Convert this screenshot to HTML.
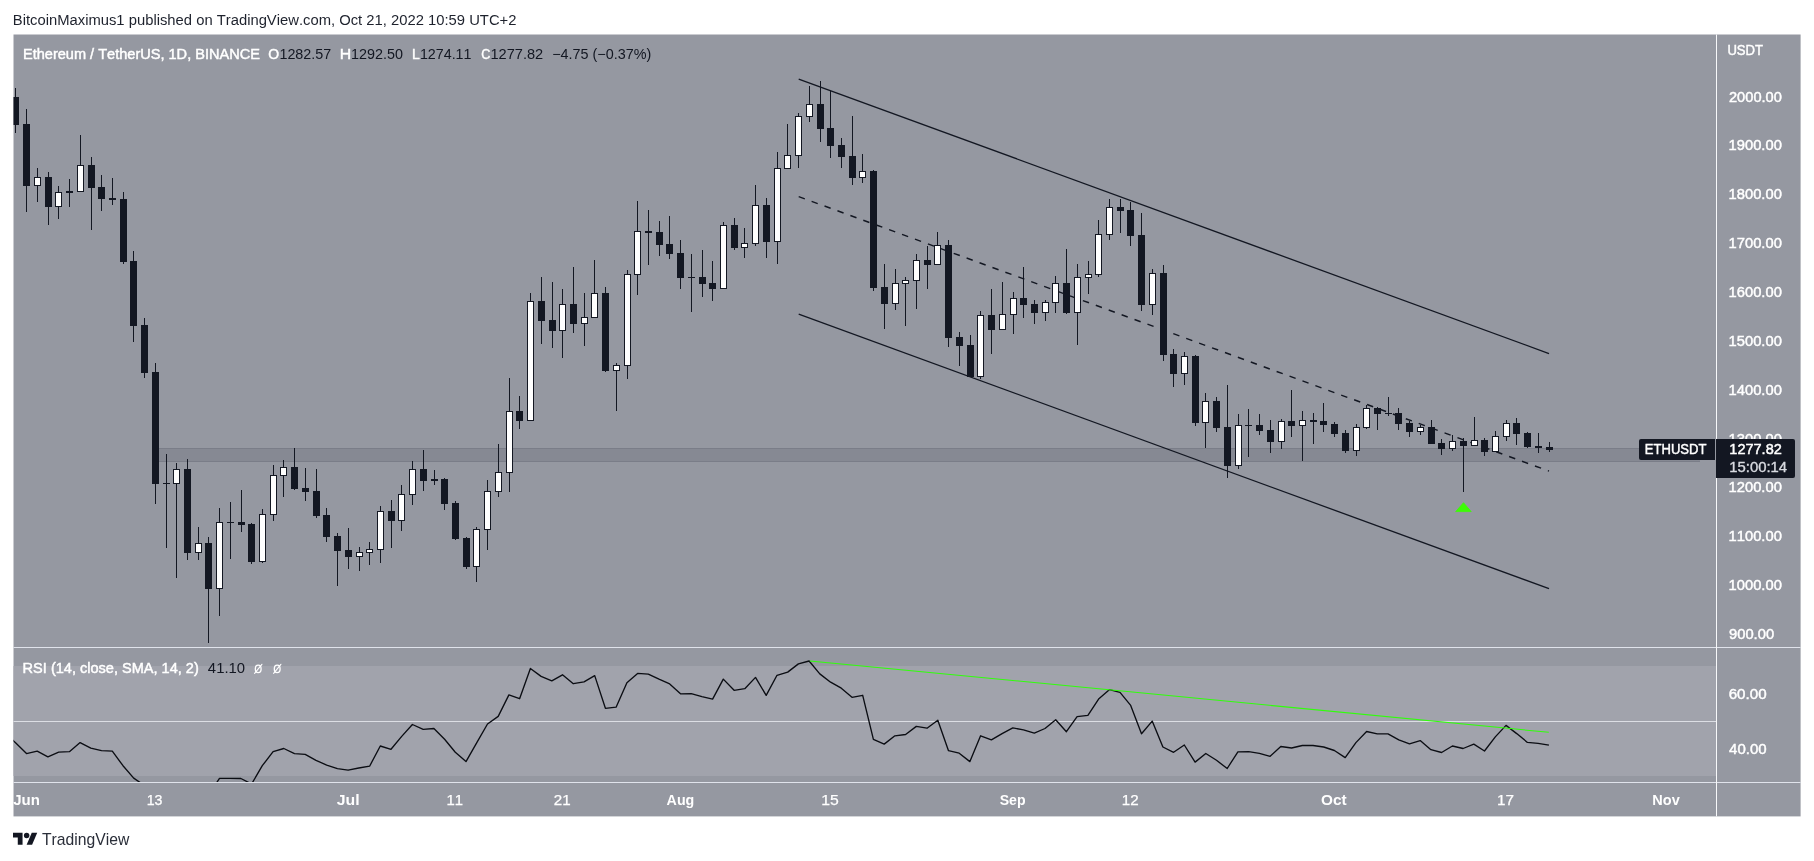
<!DOCTYPE html>
<html><head><meta charset="utf-8"><title>ETHUSDT chart</title>
<style>html,body{margin:0;padding:0;background:#fff;}body{width:1814px;height:861px;overflow:hidden;}svg{display:block;will-change:transform;}text{font-family:"Liberation Sans",sans-serif;font-kerning:none;}</style>
</head><body>
<svg width="1814" height="861" viewBox="0 0 1814 861">
<rect x="0" y="0" width="1814" height="861" fill="#ffffff"/>
<rect x="13.5" y="34.5" width="1787.1" height="781.9" fill="#9598a1"/>
<rect x="13.5" y="666" width="1702.5" height="110" fill="#a1a3ac"/>
<rect x="13.5" y="721" width="1702.5" height="1" fill="#dcdee4"/>
<defs><clipPath id="mainclip"><rect x="13.5" y="34.5" width="1702.5" height="612.5"/></clipPath><clipPath id="rsiclip"><rect x="13.5" y="648" width="1702.5" height="134"/></clipPath></defs>
<g clip-path="url(#mainclip)">
<rect x="156" y="448" width="1544" height="14" fill="#868993"/>
<rect x="156" y="448" width="1544" height="1" fill="#7a7d88"/>
<rect x="156" y="461" width="1544" height="1" fill="#7a7d88"/>
<g stroke="#131722" stroke-width="1.3" fill="none">
<line x1="798.7" y1="79.1" x2="1549.0" y2="353.55"/>
<line x1="798.7" y1="314.1" x2="1549.0" y2="588.7"/>
<line x1="798.7" y1="196.6" x2="1549.0" y2="471.1" stroke-width="1.45" stroke-dasharray="6.5 7.254"/>
</g>
<g shape-rendering="crispEdges">
<rect x="15" y="88" width="1" height="45" fill="#131722"/>
<rect x="12" y="97" width="7" height="28" fill="#131722"/>
<rect x="26" y="109" width="1" height="103" fill="#131722"/>
<rect x="23" y="124" width="7" height="62" fill="#131722"/>
<rect x="37" y="168" width="1" height="34" fill="#131722"/>
<rect x="34" y="177" width="7" height="9" fill="#131722"/>
<rect x="35" y="178" width="5" height="7" fill="#ffffff"/>
<rect x="48" y="172" width="1" height="53" fill="#131722"/>
<rect x="45" y="177" width="7" height="30" fill="#131722"/>
<rect x="58" y="186" width="1" height="33" fill="#131722"/>
<rect x="55" y="192" width="7" height="15" fill="#131722"/>
<rect x="56" y="193" width="5" height="13" fill="#ffffff"/>
<rect x="69" y="179" width="1" height="28" fill="#131722"/>
<rect x="66" y="191" width="7" height="2" fill="#131722"/>
<rect x="80" y="135" width="1" height="57" fill="#131722"/>
<rect x="77" y="165" width="7" height="27" fill="#131722"/>
<rect x="78" y="166" width="5" height="25" fill="#ffffff"/>
<rect x="91" y="157" width="1" height="73" fill="#131722"/>
<rect x="88" y="165" width="7" height="23" fill="#131722"/>
<rect x="101" y="175" width="1" height="36" fill="#131722"/>
<rect x="98" y="187" width="7" height="12" fill="#131722"/>
<rect x="112" y="178" width="1" height="27" fill="#131722"/>
<rect x="109" y="198" width="7" height="2" fill="#131722"/>
<rect x="123" y="192" width="1" height="72" fill="#131722"/>
<rect x="120" y="199" width="7" height="63" fill="#131722"/>
<rect x="133" y="251" width="1" height="91" fill="#131722"/>
<rect x="130" y="261" width="7" height="65" fill="#131722"/>
<rect x="144" y="318" width="1" height="60" fill="#131722"/>
<rect x="141" y="325" width="7" height="48" fill="#131722"/>
<rect x="155" y="363" width="1" height="141" fill="#131722"/>
<rect x="152" y="372" width="7" height="112" fill="#131722"/>
<rect x="166" y="454" width="1" height="94" fill="#131722"/>
<rect x="163" y="483" width="7" height="1" fill="#131722"/>
<rect x="176" y="463" width="1" height="115" fill="#131722"/>
<rect x="173" y="469" width="7" height="15" fill="#131722"/>
<rect x="174" y="470" width="5" height="13" fill="#ffffff"/>
<rect x="187" y="459" width="1" height="101" fill="#131722"/>
<rect x="184" y="469" width="7" height="84" fill="#131722"/>
<rect x="198" y="527" width="1" height="33" fill="#131722"/>
<rect x="195" y="543" width="7" height="10" fill="#131722"/>
<rect x="196" y="544" width="5" height="8" fill="#ffffff"/>
<rect x="208" y="537" width="1" height="106" fill="#131722"/>
<rect x="205" y="543" width="7" height="46" fill="#131722"/>
<rect x="219" y="508" width="1" height="108" fill="#131722"/>
<rect x="216" y="522" width="7" height="67" fill="#131722"/>
<rect x="217" y="523" width="5" height="65" fill="#ffffff"/>
<rect x="230" y="502" width="1" height="57" fill="#131722"/>
<rect x="227" y="522" width="7" height="1" fill="#131722"/>
<rect x="241" y="490" width="1" height="42" fill="#131722"/>
<rect x="238" y="522" width="7" height="3" fill="#131722"/>
<rect x="251" y="523" width="1" height="41" fill="#131722"/>
<rect x="248" y="524" width="7" height="38" fill="#131722"/>
<rect x="262" y="509" width="1" height="54" fill="#131722"/>
<rect x="259" y="514" width="7" height="48" fill="#131722"/>
<rect x="260" y="515" width="5" height="46" fill="#ffffff"/>
<rect x="273" y="465" width="1" height="56" fill="#131722"/>
<rect x="270" y="475" width="7" height="40" fill="#131722"/>
<rect x="271" y="476" width="5" height="38" fill="#ffffff"/>
<rect x="283" y="460" width="1" height="37" fill="#131722"/>
<rect x="280" y="467" width="7" height="9" fill="#131722"/>
<rect x="281" y="468" width="5" height="7" fill="#ffffff"/>
<rect x="294" y="448" width="1" height="42" fill="#131722"/>
<rect x="291" y="467" width="7" height="22" fill="#131722"/>
<rect x="305" y="468" width="1" height="33" fill="#131722"/>
<rect x="302" y="488" width="7" height="4" fill="#131722"/>
<rect x="316" y="469" width="1" height="49" fill="#131722"/>
<rect x="313" y="491" width="7" height="25" fill="#131722"/>
<rect x="326" y="508" width="1" height="34" fill="#131722"/>
<rect x="323" y="515" width="7" height="22" fill="#131722"/>
<rect x="337" y="533" width="1" height="53" fill="#131722"/>
<rect x="334" y="536" width="7" height="15" fill="#131722"/>
<rect x="348" y="528" width="1" height="41" fill="#131722"/>
<rect x="345" y="550" width="7" height="7" fill="#131722"/>
<rect x="359" y="547" width="1" height="24" fill="#131722"/>
<rect x="356" y="552" width="7" height="5" fill="#131722"/>
<rect x="357" y="553" width="5" height="3" fill="#ffffff"/>
<rect x="369" y="542" width="1" height="23" fill="#131722"/>
<rect x="366" y="549" width="7" height="4" fill="#131722"/>
<rect x="367" y="550" width="5" height="2" fill="#ffffff"/>
<rect x="380" y="506" width="1" height="57" fill="#131722"/>
<rect x="377" y="511" width="7" height="39" fill="#131722"/>
<rect x="378" y="512" width="5" height="37" fill="#ffffff"/>
<rect x="391" y="500" width="1" height="48" fill="#131722"/>
<rect x="388" y="511" width="7" height="10" fill="#131722"/>
<rect x="401" y="485" width="1" height="46" fill="#131722"/>
<rect x="398" y="494" width="7" height="27" fill="#131722"/>
<rect x="399" y="495" width="5" height="25" fill="#ffffff"/>
<rect x="412" y="461" width="1" height="44" fill="#131722"/>
<rect x="409" y="469" width="7" height="26" fill="#131722"/>
<rect x="410" y="470" width="5" height="24" fill="#ffffff"/>
<rect x="423" y="450" width="1" height="41" fill="#131722"/>
<rect x="420" y="469" width="7" height="12" fill="#131722"/>
<rect x="434" y="470" width="1" height="15" fill="#131722"/>
<rect x="431" y="479" width="7" height="2" fill="#131722"/>
<rect x="444" y="478" width="1" height="32" fill="#131722"/>
<rect x="441" y="479" width="7" height="25" fill="#131722"/>
<rect x="455" y="501" width="1" height="39" fill="#131722"/>
<rect x="452" y="503" width="7" height="36" fill="#131722"/>
<rect x="466" y="537" width="1" height="32" fill="#131722"/>
<rect x="463" y="538" width="7" height="29" fill="#131722"/>
<rect x="476" y="527" width="1" height="55" fill="#131722"/>
<rect x="473" y="529" width="7" height="38" fill="#131722"/>
<rect x="474" y="530" width="5" height="36" fill="#ffffff"/>
<rect x="487" y="480" width="1" height="70" fill="#131722"/>
<rect x="484" y="491" width="7" height="39" fill="#131722"/>
<rect x="485" y="492" width="5" height="37" fill="#ffffff"/>
<rect x="498" y="444" width="1" height="53" fill="#131722"/>
<rect x="495" y="472" width="7" height="20" fill="#131722"/>
<rect x="496" y="473" width="5" height="18" fill="#ffffff"/>
<rect x="509" y="378" width="1" height="114" fill="#131722"/>
<rect x="506" y="411" width="7" height="62" fill="#131722"/>
<rect x="507" y="412" width="5" height="60" fill="#ffffff"/>
<rect x="519" y="396" width="1" height="33" fill="#131722"/>
<rect x="516" y="411" width="7" height="10" fill="#131722"/>
<rect x="530" y="293" width="1" height="128" fill="#131722"/>
<rect x="527" y="301" width="7" height="120" fill="#131722"/>
<rect x="528" y="302" width="5" height="118" fill="#ffffff"/>
<rect x="541" y="277" width="1" height="67" fill="#131722"/>
<rect x="538" y="301" width="7" height="20" fill="#131722"/>
<rect x="552" y="282" width="1" height="66" fill="#131722"/>
<rect x="549" y="320" width="7" height="11" fill="#131722"/>
<rect x="562" y="289" width="1" height="69" fill="#131722"/>
<rect x="559" y="304" width="7" height="27" fill="#131722"/>
<rect x="560" y="305" width="5" height="25" fill="#ffffff"/>
<rect x="573" y="267" width="1" height="66" fill="#131722"/>
<rect x="570" y="304" width="7" height="20" fill="#131722"/>
<rect x="584" y="293" width="1" height="53" fill="#131722"/>
<rect x="581" y="317" width="7" height="7" fill="#131722"/>
<rect x="582" y="318" width="5" height="5" fill="#ffffff"/>
<rect x="594" y="260" width="1" height="58" fill="#131722"/>
<rect x="591" y="293" width="7" height="25" fill="#131722"/>
<rect x="592" y="294" width="5" height="23" fill="#ffffff"/>
<rect x="605" y="287" width="1" height="85" fill="#131722"/>
<rect x="602" y="293" width="7" height="78" fill="#131722"/>
<rect x="616" y="363" width="1" height="48" fill="#131722"/>
<rect x="613" y="365" width="7" height="6" fill="#131722"/>
<rect x="614" y="366" width="5" height="4" fill="#ffffff"/>
<rect x="627" y="270" width="1" height="109" fill="#131722"/>
<rect x="624" y="274" width="7" height="92" fill="#131722"/>
<rect x="625" y="275" width="5" height="90" fill="#ffffff"/>
<rect x="637" y="201" width="1" height="94" fill="#131722"/>
<rect x="634" y="231" width="7" height="44" fill="#131722"/>
<rect x="635" y="232" width="5" height="42" fill="#ffffff"/>
<rect x="648" y="210" width="1" height="55" fill="#131722"/>
<rect x="645" y="231" width="7" height="2" fill="#131722"/>
<rect x="659" y="221" width="1" height="35" fill="#131722"/>
<rect x="656" y="232" width="7" height="13" fill="#131722"/>
<rect x="669" y="216" width="1" height="43" fill="#131722"/>
<rect x="666" y="244" width="7" height="10" fill="#131722"/>
<rect x="680" y="240" width="1" height="49" fill="#131722"/>
<rect x="677" y="253" width="7" height="25" fill="#131722"/>
<rect x="691" y="254" width="1" height="58" fill="#131722"/>
<rect x="688" y="277" width="7" height="1" fill="#131722"/>
<rect x="702" y="250" width="1" height="47" fill="#131722"/>
<rect x="699" y="277" width="7" height="7" fill="#131722"/>
<rect x="712" y="261" width="1" height="40" fill="#131722"/>
<rect x="709" y="283" width="7" height="6" fill="#131722"/>
<rect x="723" y="222" width="1" height="67" fill="#131722"/>
<rect x="720" y="225" width="7" height="64" fill="#131722"/>
<rect x="721" y="226" width="5" height="62" fill="#ffffff"/>
<rect x="734" y="218" width="1" height="32" fill="#131722"/>
<rect x="731" y="225" width="7" height="23" fill="#131722"/>
<rect x="744" y="228" width="1" height="30" fill="#131722"/>
<rect x="741" y="243" width="7" height="5" fill="#131722"/>
<rect x="742" y="244" width="5" height="3" fill="#ffffff"/>
<rect x="755" y="185" width="1" height="61" fill="#131722"/>
<rect x="752" y="205" width="7" height="39" fill="#131722"/>
<rect x="753" y="206" width="5" height="37" fill="#ffffff"/>
<rect x="766" y="198" width="1" height="60" fill="#131722"/>
<rect x="763" y="205" width="7" height="37" fill="#131722"/>
<rect x="777" y="152" width="1" height="112" fill="#131722"/>
<rect x="774" y="168" width="7" height="74" fill="#131722"/>
<rect x="775" y="169" width="5" height="72" fill="#ffffff"/>
<rect x="787" y="124" width="1" height="45" fill="#131722"/>
<rect x="784" y="155" width="7" height="14" fill="#131722"/>
<rect x="785" y="156" width="5" height="12" fill="#ffffff"/>
<rect x="798" y="113" width="1" height="55" fill="#131722"/>
<rect x="795" y="116" width="7" height="40" fill="#131722"/>
<rect x="796" y="117" width="5" height="38" fill="#ffffff"/>
<rect x="809" y="86" width="1" height="36" fill="#131722"/>
<rect x="806" y="104" width="7" height="13" fill="#131722"/>
<rect x="807" y="105" width="5" height="11" fill="#ffffff"/>
<rect x="820" y="81" width="1" height="61" fill="#131722"/>
<rect x="817" y="104" width="7" height="25" fill="#131722"/>
<rect x="830" y="91" width="1" height="67" fill="#131722"/>
<rect x="827" y="128" width="7" height="18" fill="#131722"/>
<rect x="841" y="138" width="1" height="30" fill="#131722"/>
<rect x="838" y="145" width="7" height="12" fill="#131722"/>
<rect x="852" y="116" width="1" height="69" fill="#131722"/>
<rect x="849" y="156" width="7" height="22" fill="#131722"/>
<rect x="862" y="154" width="1" height="29" fill="#131722"/>
<rect x="859" y="171" width="7" height="7" fill="#131722"/>
<rect x="860" y="172" width="5" height="5" fill="#ffffff"/>
<rect x="873" y="170" width="1" height="121" fill="#131722"/>
<rect x="870" y="171" width="7" height="117" fill="#131722"/>
<rect x="884" y="264" width="1" height="65" fill="#131722"/>
<rect x="881" y="287" width="7" height="17" fill="#131722"/>
<rect x="895" y="269" width="1" height="41" fill="#131722"/>
<rect x="892" y="283" width="7" height="21" fill="#131722"/>
<rect x="893" y="284" width="5" height="19" fill="#ffffff"/>
<rect x="905" y="277" width="1" height="49" fill="#131722"/>
<rect x="902" y="280" width="7" height="4" fill="#131722"/>
<rect x="903" y="281" width="5" height="2" fill="#ffffff"/>
<rect x="916" y="254" width="1" height="55" fill="#131722"/>
<rect x="913" y="260" width="7" height="21" fill="#131722"/>
<rect x="914" y="261" width="5" height="19" fill="#ffffff"/>
<rect x="927" y="246" width="1" height="43" fill="#131722"/>
<rect x="924" y="260" width="7" height="5" fill="#131722"/>
<rect x="937" y="232" width="1" height="33" fill="#131722"/>
<rect x="934" y="245" width="7" height="20" fill="#131722"/>
<rect x="935" y="246" width="5" height="18" fill="#ffffff"/>
<rect x="948" y="240" width="1" height="107" fill="#131722"/>
<rect x="945" y="245" width="7" height="93" fill="#131722"/>
<rect x="959" y="332" width="1" height="34" fill="#131722"/>
<rect x="956" y="337" width="7" height="9" fill="#131722"/>
<rect x="970" y="335" width="1" height="42" fill="#131722"/>
<rect x="967" y="345" width="7" height="32" fill="#131722"/>
<rect x="980" y="311" width="1" height="68" fill="#131722"/>
<rect x="977" y="315" width="7" height="62" fill="#131722"/>
<rect x="978" y="316" width="5" height="60" fill="#ffffff"/>
<rect x="991" y="289" width="1" height="65" fill="#131722"/>
<rect x="988" y="315" width="7" height="15" fill="#131722"/>
<rect x="1002" y="282" width="1" height="48" fill="#131722"/>
<rect x="999" y="314" width="7" height="16" fill="#131722"/>
<rect x="1000" y="315" width="5" height="14" fill="#ffffff"/>
<rect x="1013" y="292" width="1" height="42" fill="#131722"/>
<rect x="1010" y="298" width="7" height="17" fill="#131722"/>
<rect x="1011" y="299" width="5" height="15" fill="#ffffff"/>
<rect x="1023" y="267" width="1" height="51" fill="#131722"/>
<rect x="1020" y="298" width="7" height="7" fill="#131722"/>
<rect x="1034" y="300" width="1" height="24" fill="#131722"/>
<rect x="1031" y="304" width="7" height="9" fill="#131722"/>
<rect x="1045" y="300" width="1" height="21" fill="#131722"/>
<rect x="1042" y="302" width="7" height="11" fill="#131722"/>
<rect x="1043" y="303" width="5" height="9" fill="#ffffff"/>
<rect x="1055" y="276" width="1" height="37" fill="#131722"/>
<rect x="1052" y="283" width="7" height="20" fill="#131722"/>
<rect x="1053" y="284" width="5" height="18" fill="#ffffff"/>
<rect x="1066" y="249" width="1" height="65" fill="#131722"/>
<rect x="1063" y="283" width="7" height="30" fill="#131722"/>
<rect x="1077" y="264" width="1" height="81" fill="#131722"/>
<rect x="1074" y="277" width="7" height="36" fill="#131722"/>
<rect x="1075" y="278" width="5" height="34" fill="#ffffff"/>
<rect x="1088" y="261" width="1" height="33" fill="#131722"/>
<rect x="1085" y="274" width="7" height="4" fill="#131722"/>
<rect x="1086" y="275" width="5" height="2" fill="#ffffff"/>
<rect x="1098" y="220" width="1" height="57" fill="#131722"/>
<rect x="1095" y="234" width="7" height="41" fill="#131722"/>
<rect x="1096" y="235" width="5" height="39" fill="#ffffff"/>
<rect x="1109" y="199" width="1" height="41" fill="#131722"/>
<rect x="1106" y="207" width="7" height="28" fill="#131722"/>
<rect x="1107" y="208" width="5" height="26" fill="#ffffff"/>
<rect x="1120" y="199" width="1" height="34" fill="#131722"/>
<rect x="1117" y="207" width="7" height="4" fill="#131722"/>
<rect x="1130" y="202" width="1" height="44" fill="#131722"/>
<rect x="1127" y="210" width="7" height="26" fill="#131722"/>
<rect x="1141" y="213" width="1" height="98" fill="#131722"/>
<rect x="1138" y="235" width="7" height="70" fill="#131722"/>
<rect x="1152" y="269" width="1" height="46" fill="#131722"/>
<rect x="1149" y="273" width="7" height="32" fill="#131722"/>
<rect x="1150" y="274" width="5" height="30" fill="#ffffff"/>
<rect x="1163" y="265" width="1" height="96" fill="#131722"/>
<rect x="1160" y="273" width="7" height="82" fill="#131722"/>
<rect x="1173" y="349" width="1" height="38" fill="#131722"/>
<rect x="1170" y="354" width="7" height="20" fill="#131722"/>
<rect x="1184" y="352" width="1" height="33" fill="#131722"/>
<rect x="1181" y="356" width="7" height="18" fill="#131722"/>
<rect x="1182" y="357" width="5" height="16" fill="#ffffff"/>
<rect x="1195" y="355" width="1" height="71" fill="#131722"/>
<rect x="1192" y="356" width="7" height="67" fill="#131722"/>
<rect x="1205" y="393" width="1" height="55" fill="#131722"/>
<rect x="1202" y="401" width="7" height="22" fill="#131722"/>
<rect x="1203" y="402" width="5" height="20" fill="#ffffff"/>
<rect x="1216" y="397" width="1" height="35" fill="#131722"/>
<rect x="1213" y="401" width="7" height="27" fill="#131722"/>
<rect x="1227" y="385" width="1" height="93" fill="#131722"/>
<rect x="1224" y="427" width="7" height="39" fill="#131722"/>
<rect x="1238" y="414" width="1" height="55" fill="#131722"/>
<rect x="1235" y="425" width="7" height="41" fill="#131722"/>
<rect x="1236" y="426" width="5" height="39" fill="#ffffff"/>
<rect x="1248" y="409" width="1" height="48" fill="#131722"/>
<rect x="1245" y="425" width="7" height="1" fill="#131722"/>
<rect x="1259" y="414" width="1" height="21" fill="#131722"/>
<rect x="1256" y="425" width="7" height="6" fill="#131722"/>
<rect x="1270" y="420" width="1" height="33" fill="#131722"/>
<rect x="1267" y="430" width="7" height="12" fill="#131722"/>
<rect x="1281" y="419" width="1" height="30" fill="#131722"/>
<rect x="1278" y="421" width="7" height="21" fill="#131722"/>
<rect x="1279" y="422" width="5" height="19" fill="#ffffff"/>
<rect x="1291" y="390" width="1" height="47" fill="#131722"/>
<rect x="1288" y="421" width="7" height="5" fill="#131722"/>
<rect x="1302" y="411" width="1" height="50" fill="#131722"/>
<rect x="1299" y="420" width="7" height="6" fill="#131722"/>
<rect x="1300" y="421" width="5" height="4" fill="#ffffff"/>
<rect x="1313" y="413" width="1" height="31" fill="#131722"/>
<rect x="1310" y="420" width="7" height="2" fill="#131722"/>
<rect x="1323" y="403" width="1" height="29" fill="#131722"/>
<rect x="1320" y="421" width="7" height="4" fill="#131722"/>
<rect x="1334" y="422" width="1" height="15" fill="#131722"/>
<rect x="1331" y="424" width="7" height="10" fill="#131722"/>
<rect x="1345" y="430" width="1" height="23" fill="#131722"/>
<rect x="1342" y="433" width="7" height="18" fill="#131722"/>
<rect x="1356" y="424" width="1" height="32" fill="#131722"/>
<rect x="1353" y="427" width="7" height="24" fill="#131722"/>
<rect x="1354" y="428" width="5" height="22" fill="#ffffff"/>
<rect x="1366" y="405" width="1" height="24" fill="#131722"/>
<rect x="1363" y="408" width="7" height="20" fill="#131722"/>
<rect x="1364" y="409" width="5" height="18" fill="#ffffff"/>
<rect x="1377" y="407" width="1" height="23" fill="#131722"/>
<rect x="1374" y="408" width="7" height="6" fill="#131722"/>
<rect x="1388" y="397" width="1" height="19" fill="#131722"/>
<rect x="1385" y="413" width="7" height="1" fill="#131722"/>
<rect x="1398" y="408" width="1" height="22" fill="#131722"/>
<rect x="1395" y="413" width="7" height="11" fill="#131722"/>
<rect x="1409" y="421" width="1" height="16" fill="#131722"/>
<rect x="1406" y="423" width="7" height="9" fill="#131722"/>
<rect x="1420" y="425" width="1" height="10" fill="#131722"/>
<rect x="1417" y="427" width="7" height="5" fill="#131722"/>
<rect x="1418" y="428" width="5" height="3" fill="#ffffff"/>
<rect x="1431" y="420" width="1" height="24" fill="#131722"/>
<rect x="1428" y="427" width="7" height="17" fill="#131722"/>
<rect x="1441" y="439" width="1" height="16" fill="#131722"/>
<rect x="1438" y="443" width="7" height="6" fill="#131722"/>
<rect x="1452" y="435" width="1" height="16" fill="#131722"/>
<rect x="1449" y="441" width="7" height="8" fill="#131722"/>
<rect x="1450" y="442" width="5" height="6" fill="#ffffff"/>
<rect x="1463" y="438" width="1" height="54" fill="#131722"/>
<rect x="1460" y="441" width="7" height="5" fill="#131722"/>
<rect x="1474" y="417" width="1" height="29" fill="#131722"/>
<rect x="1471" y="440" width="7" height="6" fill="#131722"/>
<rect x="1472" y="441" width="5" height="4" fill="#ffffff"/>
<rect x="1484" y="438" width="1" height="18" fill="#131722"/>
<rect x="1481" y="440" width="7" height="12" fill="#131722"/>
<rect x="1495" y="431" width="1" height="21" fill="#131722"/>
<rect x="1492" y="436" width="7" height="16" fill="#131722"/>
<rect x="1493" y="437" width="5" height="14" fill="#ffffff"/>
<rect x="1506" y="420" width="1" height="21" fill="#131722"/>
<rect x="1503" y="423" width="7" height="14" fill="#131722"/>
<rect x="1504" y="424" width="5" height="12" fill="#ffffff"/>
<rect x="1516" y="418" width="1" height="27" fill="#131722"/>
<rect x="1513" y="423" width="7" height="11" fill="#131722"/>
<rect x="1527" y="432" width="1" height="16" fill="#131722"/>
<rect x="1524" y="433" width="7" height="14" fill="#131722"/>
<rect x="1538" y="433" width="1" height="20" fill="#131722"/>
<rect x="1535" y="446" width="7" height="2" fill="#131722"/>
<rect x="1549" y="442" width="1" height="10" fill="#131722"/>
<rect x="1546" y="447" width="7" height="3" fill="#131722"/>
</g>
<path d="M1463.5 502.7 L1471.2 511.6 L1455.7 511.6 Z" fill="#3cfc05" stroke="#3cfc05" stroke-width="0.8" stroke-linejoin="round"/>
</g>
<g clip-path="url(#rsiclip)">
<polyline points="5.0,733.0 15.8,743.0 26.5,753.6 37.2,751.2 47.9,756.8 58.7,752.2 69.4,751.7 80.1,742.6 90.8,748.2 101.5,750.7 112.3,751.2 123.0,765.7 133.7,778.1 144.4,785.5 155.1,800.0 165.9,805.0 176.6,805.0 187.3,808.0 198.0,806.0 208.7,795.0 219.5,778.3 230.2,778.3 240.9,778.5 251.6,784.0 262.3,765.7 273.1,751.7 283.8,748.5 294.5,753.6 305.2,754.3 316.0,760.3 326.7,765.1 337.4,768.7 348.1,770.2 358.8,768.0 369.6,766.2 380.3,746.0 391.0,749.3 401.7,736.4 412.4,724.5 423.2,729.3 433.9,728.5 444.6,739.3 455.3,752.2 466.0,761.6 476.8,742.6 487.5,724.0 498.2,716.4 508.9,694.9 519.6,698.7 530.4,668.5 541.1,676.4 551.8,680.9 562.5,674.8 573.3,683.7 584.0,681.9 594.7,675.6 605.4,708.3 616.1,707.2 626.9,682.7 637.6,673.4 648.3,674.1 659.0,679.2 669.7,683.9 680.5,693.8 691.2,693.6 701.9,696.6 712.6,699.1 723.3,679.1 734.1,690.3 744.8,688.7 755.5,677.4 766.2,695.4 777.0,675.3 787.7,672.1 798.4,663.9 809.1,661.0 819.8,673.9 830.6,682.2 841.3,688.2 852.0,697.3 862.7,695.3 873.4,739.3 884.2,744.1 894.9,735.8 905.6,734.5 916.3,726.4 927.0,728.2 937.8,720.2 948.5,750.7 959.2,753.2 969.9,761.6 980.6,735.8 991.4,739.9 1002.1,733.6 1012.8,727.9 1023.5,729.8 1034.3,733.1 1045.0,728.5 1055.7,719.7 1066.4,731.7 1077.1,716.6 1087.9,715.4 1098.6,699.1 1109.3,689.7 1120.0,692.4 1130.7,705.4 1141.5,733.8 1152.2,721.1 1162.9,747.0 1173.6,752.3 1184.3,745.0 1195.1,762.1 1205.8,753.5 1216.5,760.3 1227.2,768.5 1237.9,751.8 1248.7,751.7 1259.4,753.3 1270.1,756.3 1280.8,746.5 1291.6,748.0 1302.3,745.5 1313.0,745.5 1323.7,747.0 1334.4,750.5 1345.2,757.6 1355.9,742.6 1366.6,731.5 1377.3,733.8 1388.0,733.8 1398.8,739.8 1409.5,743.8 1420.2,740.6 1430.9,749.7 1441.6,752.5 1452.4,746.0 1463.1,748.5 1473.8,744.1 1484.5,751.0 1495.3,736.9 1506.0,725.4 1516.7,733.6 1527.4,742.4 1538.1,743.4 1548.9,745.2" fill="none" stroke="#0b0d13" stroke-width="1.35" stroke-linejoin="round"/>
<line x1="809.8" y1="660.9" x2="1548.8" y2="732.3" stroke="#30ff0a" stroke-width="1.05"/>
</g>
<rect x="13.5" y="647" width="1787.1" height="1" fill="#e0e3eb"/>
<rect x="13.5" y="782" width="1787.1" height="1" fill="#e0e3eb"/>
<rect x="1716" y="34.5" width="1" height="781.9" fill="#f7f8fa"/>
<text x="12.79" y="24.65" font-size="14" fill="#1e222d" font-weight="normal" textLength="503.66" lengthAdjust="spacingAndGlyphs">BitcoinMaximus1 published on TradingView.com, Oct 21, 2022 10:59 UTC+2</text>
<text x="23.03" y="58.50" font-size="14.2" fill="#ffffff" font-weight="normal" textLength="236.87" lengthAdjust="spacingAndGlyphs" stroke="#ffffff" stroke-width="0.45">Ethereum / TetherUS, 1D, BINANCE</text>
<text x="268.36" y="58.50" font-size="14.2" fill="#ffffff" font-weight="normal" textLength="10.88" lengthAdjust="spacingAndGlyphs" stroke="#ffffff" stroke-width="0.45">O</text>
<text x="279.41" y="58.90" font-size="14.2" fill="#131722" font-weight="normal" textLength="51.81" lengthAdjust="spacingAndGlyphs">1282.57</text>
<text x="339.83" y="58.50" font-size="14.2" fill="#ffffff" font-weight="normal" textLength="11.44" lengthAdjust="spacingAndGlyphs" stroke="#ffffff" stroke-width="0.45">H</text>
<text x="351.11" y="58.90" font-size="14.2" fill="#131722" font-weight="normal" textLength="51.96" lengthAdjust="spacingAndGlyphs">1292.50</text>
<text x="411.88" y="58.50" font-size="14.2" fill="#ffffff" font-weight="normal" textLength="7.76" lengthAdjust="spacingAndGlyphs" stroke="#ffffff" stroke-width="0.45">L</text>
<text x="419.91" y="58.90" font-size="14.2" fill="#131722" font-weight="normal" textLength="51.58" lengthAdjust="spacingAndGlyphs">1274.11</text>
<text x="481.29" y="58.50" font-size="14.2" fill="#ffffff" font-weight="normal" textLength="9.07" lengthAdjust="spacingAndGlyphs" stroke="#ffffff" stroke-width="0.45">C</text>
<text x="490.49" y="58.90" font-size="14.2" fill="#131722" font-weight="normal" textLength="52.75" lengthAdjust="spacingAndGlyphs">1277.82</text>
<text x="552.19" y="58.90" font-size="14.2" fill="#131722" font-weight="normal" textLength="99.10" lengthAdjust="spacingAndGlyphs">−4.75 (−0.37%)</text>
<text x="22.63" y="673.00" font-size="14.2" fill="#ffffff" font-weight="normal" textLength="176.14" lengthAdjust="spacingAndGlyphs" stroke="#ffffff" stroke-width="0.45">RSI (14, close, SMA, 14, 2)</text>
<text x="207.86" y="673.40" font-size="14.2" fill="#131722" font-weight="normal" textLength="37.22" lengthAdjust="spacingAndGlyphs">41.10</text>
<g stroke="#ffffff" stroke-width="1.3" fill="none" stroke-linecap="round"><ellipse cx="258.2" cy="668.9" rx="2.9" ry="3.7"/><line x1="254.6" y1="673.4" x2="261.9" y2="664.3" stroke-width="1.1"/></g>
<g stroke="#ffffff" stroke-width="1.3" fill="none" stroke-linecap="round"><ellipse cx="277.2" cy="668.9" rx="2.9" ry="3.7"/><line x1="273.6" y1="673.4" x2="280.9" y2="664.3" stroke-width="1.1"/></g>
<text x="1727.41" y="55.45" font-size="14.2" fill="#ffffff" font-weight="normal" textLength="35.66" lengthAdjust="spacingAndGlyphs" stroke="#ffffff" stroke-width="0.45">USDT</text>
<text x="1729.03" y="638.90" font-size="14.2" fill="#ffffff" font-weight="normal" textLength="45.12" lengthAdjust="spacingAndGlyphs" stroke="#ffffff" stroke-width="0.45">900.00</text>
<text x="1728.60" y="590.05" font-size="14.2" fill="#ffffff" font-weight="normal" textLength="53.25" lengthAdjust="spacingAndGlyphs" stroke="#ffffff" stroke-width="0.45">1000.00</text>
<text x="1728.60" y="541.20" font-size="14.2" fill="#ffffff" font-weight="normal" textLength="53.25" lengthAdjust="spacingAndGlyphs" stroke="#ffffff" stroke-width="0.45">1100.00</text>
<text x="1728.60" y="492.35" font-size="14.2" fill="#ffffff" font-weight="normal" textLength="53.25" lengthAdjust="spacingAndGlyphs" stroke="#ffffff" stroke-width="0.45">1200.00</text>
<text x="1728.60" y="443.50" font-size="14.2" fill="#ffffff" font-weight="normal" textLength="53.25" lengthAdjust="spacingAndGlyphs" stroke="#ffffff" stroke-width="0.45">1300.00</text>
<text x="1728.60" y="394.65" font-size="14.2" fill="#ffffff" font-weight="normal" textLength="53.25" lengthAdjust="spacingAndGlyphs" stroke="#ffffff" stroke-width="0.45">1400.00</text>
<text x="1728.60" y="345.80" font-size="14.2" fill="#ffffff" font-weight="normal" textLength="53.25" lengthAdjust="spacingAndGlyphs" stroke="#ffffff" stroke-width="0.45">1500.00</text>
<text x="1728.60" y="296.95" font-size="14.2" fill="#ffffff" font-weight="normal" textLength="53.25" lengthAdjust="spacingAndGlyphs" stroke="#ffffff" stroke-width="0.45">1600.00</text>
<text x="1728.60" y="248.10" font-size="14.2" fill="#ffffff" font-weight="normal" textLength="53.25" lengthAdjust="spacingAndGlyphs" stroke="#ffffff" stroke-width="0.45">1700.00</text>
<text x="1728.60" y="199.25" font-size="14.2" fill="#ffffff" font-weight="normal" textLength="53.25" lengthAdjust="spacingAndGlyphs" stroke="#ffffff" stroke-width="0.45">1800.00</text>
<text x="1728.60" y="150.40" font-size="14.2" fill="#ffffff" font-weight="normal" textLength="53.25" lengthAdjust="spacingAndGlyphs" stroke="#ffffff" stroke-width="0.45">1900.00</text>
<text x="1728.99" y="101.55" font-size="14.2" fill="#ffffff" font-weight="normal" textLength="52.86" lengthAdjust="spacingAndGlyphs" stroke="#ffffff" stroke-width="0.45">2000.00</text>
<text x="1728.66" y="698.90" font-size="14.2" fill="#ffffff" font-weight="normal" textLength="37.91" lengthAdjust="spacingAndGlyphs" stroke="#ffffff" stroke-width="0.45">60.00</text>
<text x="1729.08" y="753.80" font-size="14.2" fill="#ffffff" font-weight="normal" textLength="37.48" lengthAdjust="spacingAndGlyphs" stroke="#ffffff" stroke-width="0.45">40.00</text>
<path d="M1641 439 H1715 V460 H1641 a2 2 0 0 1 -2 -2 V441 a2 2 0 0 1 2 -2 Z" fill="#131722"/>
<path d="M1716 439 H1793 a2 2 0 0 1 2 2 V476 a2 2 0 0 1 -2 2 H1716 Z" fill="#131722"/>
<text x="1644.85" y="454.30" font-size="14.2" fill="#ffffff" font-weight="normal" textLength="61.62" lengthAdjust="spacingAndGlyphs" stroke="#ffffff" stroke-width="0.45">ETHUSDT</text>
<text x="1729.32" y="454.30" font-size="14.2" fill="#ffffff" font-weight="normal" textLength="52.49" lengthAdjust="spacingAndGlyphs" stroke="#ffffff" stroke-width="0.45">1277.82</text>
<text x="1729.24" y="472.30" font-size="14.2" fill="#d8dae0" font-weight="normal" textLength="57.82" lengthAdjust="spacingAndGlyphs" stroke="#d8dae0" stroke-width="0.35">15:00:14</text>
<text x="13.21" y="804.90" font-size="14" fill="#ffffff" font-weight="bold" textLength="26.66" lengthAdjust="spacingAndGlyphs">Jun</text>
<text x="146.74" y="804.90" font-size="14.2" fill="#ffffff" font-weight="normal" textLength="15.75" lengthAdjust="spacingAndGlyphs" stroke="#ffffff" stroke-width="0.25">13</text>
<text x="336.83" y="804.90" font-size="14" fill="#ffffff" font-weight="bold" textLength="22.86" lengthAdjust="spacingAndGlyphs">Jul</text>
<text x="446.57" y="804.90" font-size="14.2" fill="#ffffff" font-weight="normal" textLength="16.50" lengthAdjust="spacingAndGlyphs" stroke="#ffffff" stroke-width="0.25">11</text>
<text x="553.80" y="804.90" font-size="14.2" fill="#ffffff" font-weight="normal" textLength="16.85" lengthAdjust="spacingAndGlyphs" stroke="#ffffff" stroke-width="0.25">21</text>
<text x="666.61" y="804.90" font-size="14" fill="#ffffff" font-weight="bold" textLength="27.71" lengthAdjust="spacingAndGlyphs">Aug</text>
<text x="821.23" y="804.90" font-size="14.2" fill="#ffffff" font-weight="normal" textLength="17.51" lengthAdjust="spacingAndGlyphs" stroke="#ffffff" stroke-width="0.25">15</text>
<text x="999.65" y="804.90" font-size="14" fill="#ffffff" font-weight="bold" textLength="25.89" lengthAdjust="spacingAndGlyphs">Sep</text>
<text x="1121.81" y="804.90" font-size="14.2" fill="#ffffff" font-weight="normal" textLength="16.87" lengthAdjust="spacingAndGlyphs" stroke="#ffffff" stroke-width="0.25">12</text>
<text x="1321.11" y="804.90" font-size="14" fill="#ffffff" font-weight="bold" textLength="25.62" lengthAdjust="spacingAndGlyphs">Oct</text>
<text x="1496.98" y="804.90" font-size="14.2" fill="#ffffff" font-weight="normal" textLength="16.98" lengthAdjust="spacingAndGlyphs" stroke="#ffffff" stroke-width="0.25">17</text>
<text x="1652.31" y="804.90" font-size="14" fill="#ffffff" font-weight="bold" textLength="27.44" lengthAdjust="spacingAndGlyphs">Nov</text>
<g transform="translate(13,830.2) scale(0.682,0.665)" fill="#131722"><path d="M14 22H7V11H0V4h14v18z"/><circle cx="20" cy="8" r="4"/><path d="M28 22h-8l7.5-18h8L28 22z"/></g>
<text x="41.95" y="844.65" font-size="16.2" fill="#2a2e39" font-weight="normal" textLength="87.31" lengthAdjust="spacingAndGlyphs">TradingView</text>
</svg>
</body></html>
